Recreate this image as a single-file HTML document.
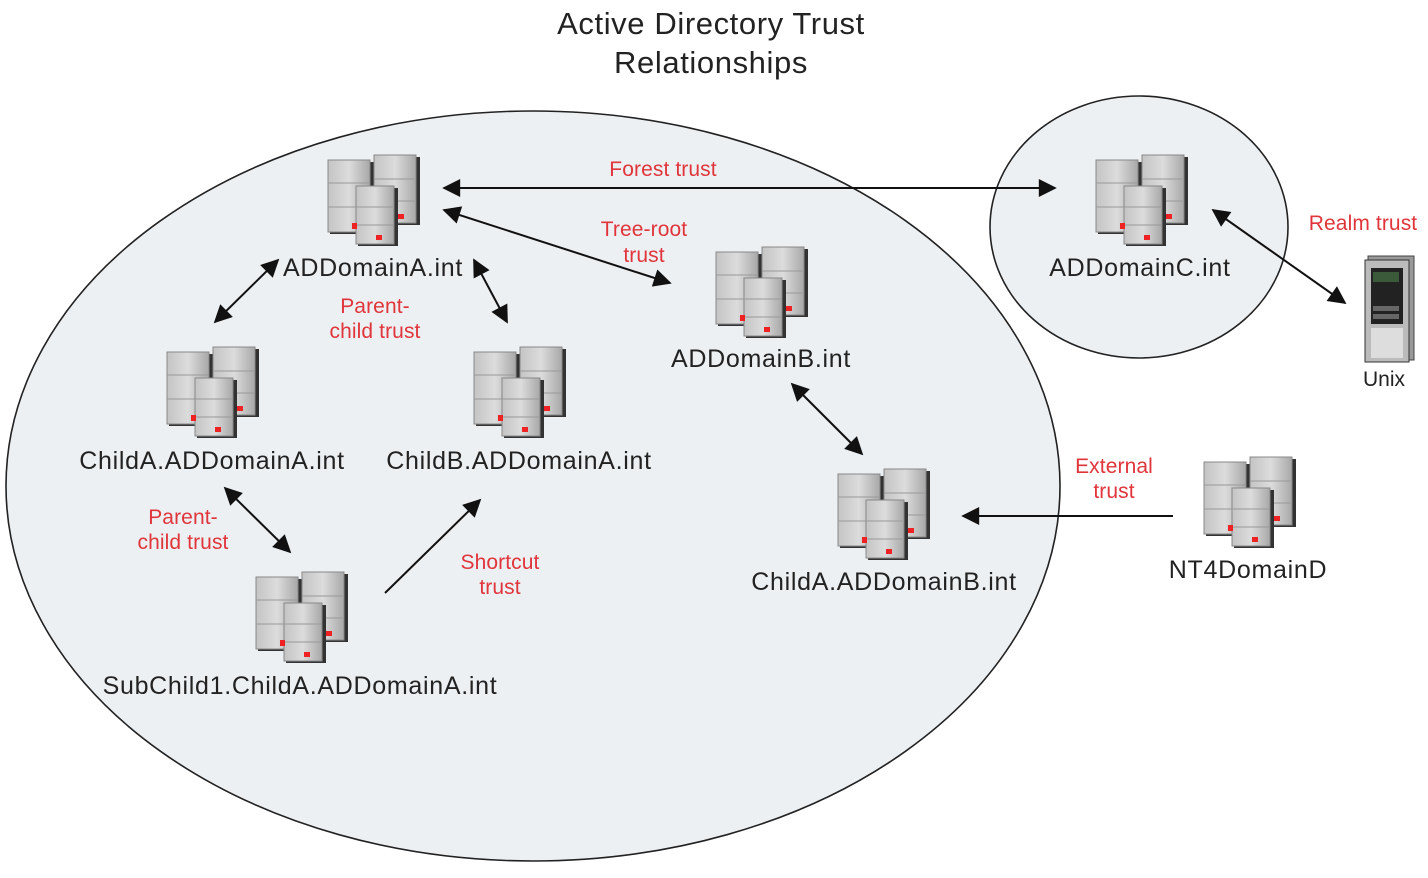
<!DOCTYPE html>
<html><head><meta charset="utf-8"><style>
body{margin:0;background:#fff}
svg{display:block}
text{font-family:"Liberation Sans",Arial,sans-serif}
.b{font-size:25px;fill:#222;letter-spacing:0.7px}
.r{font-size:21px;fill:#e0353a;letter-spacing:0.1px}
</style></head><body>
<svg width="1428" height="878" viewBox="0 0 1428 878">
<defs>
<linearGradient id="g" x1="0" x2="1"><stop offset="0" stop-color="#c4c4c4"/><stop offset=".5" stop-color="#dcdcdc"/><stop offset="1" stop-color="#a8a8a8"/></linearGradient>
<marker id="a2" viewBox="0 0 10 10" refX="9" refY="5" markerWidth="22" markerHeight="18" markerUnits="userSpaceOnUse" orient="auto-start-reverse"><path d="M0,0L10,5L0,10z" fill="#111"/></marker>
<g id="srv">
 <rect x="2" y="7" width="44" height="72" fill="#333"/>
 <rect x="0" y="5" width="42" height="72" fill="url(#g)" stroke="#888"/>
 <line x1="0" y1="28" x2="42" y2="28" stroke="#999"/><line x1="0" y1="52" x2="42" y2="52" stroke="#999"/>
 <rect x="48" y="2" width="44" height="68" fill="#333"/>
 <rect x="46" y="0" width="42" height="68" fill="url(#g)" stroke="#888"/>
 <line x1="46" y1="24" x2="88" y2="24" stroke="#999"/><line x1="46" y1="46" x2="88" y2="46" stroke="#999"/>
 <rect x="70" y="59" width="6" height="5" fill="#e22"/>
 <rect x="30" y="33" width="40" height="58" fill="#333"/>
 <rect x="28" y="31" width="38" height="58" fill="url(#g)" stroke="#888"/>
 <line x1="28" y1="52" x2="66" y2="52" stroke="#999"/><line x1="28" y1="70" x2="66" y2="70" stroke="#999"/>
 <rect x="24" y="68" width="5" height="6" fill="#e22"/>
 <rect x="48" y="80" width="6" height="5" fill="#e22"/>
</g>
</defs>
<text class="b" x="711" y="34" text-anchor="middle" style="font-size:31px;letter-spacing:0.6px">Active Directory Trust</text>
<text class="b" x="711" y="73" text-anchor="middle" style="font-size:31px;letter-spacing:0.6px">Relationships</text>
<ellipse cx="533" cy="486" rx="527" ry="375" fill="#edf0f3" stroke="#222" stroke-width="1.6"/>
<ellipse cx="1139" cy="227" rx="149" ry="131" fill="#edf0f3" stroke="#222" stroke-width="1.6"/>
<g stroke="#111" stroke-width="2">
<line x1="444" y1="188" x2="1055" y2="188" marker-start="url(#a2)" marker-end="url(#a2)"/>
<line x1="444" y1="210" x2="670" y2="283" marker-start="url(#a2)" marker-end="url(#a2)"/>
<line x1="278" y1="260" x2="215" y2="322" marker-start="url(#a2)" marker-end="url(#a2)"/>
<line x1="474" y1="260" x2="507" y2="322" marker-start="url(#a2)" marker-end="url(#a2)"/>
<line x1="225" y1="488" x2="290" y2="552" marker-start="url(#a2)" marker-end="url(#a2)"/>
<line x1="385" y1="593" x2="480" y2="500" marker-end="url(#a2)"/>
<line x1="792" y1="384" x2="862" y2="454" marker-start="url(#a2)" marker-end="url(#a2)"/>
<line x1="1173" y1="516" x2="963" y2="516" marker-end="url(#a2)"/>
<line x1="1213" y1="210" x2="1345" y2="303" marker-start="url(#a2)" marker-end="url(#a2)"/>
</g>
<use href="#srv" x="328" y="155"/>
<use href="#srv" x="716" y="247"/>
<use href="#srv" x="1096" y="155"/>
<use href="#srv" x="167" y="347"/>
<use href="#srv" x="474" y="347"/>
<use href="#srv" x="256" y="572"/>
<use href="#srv" x="838" y="469"/>
<use href="#srv" x="1204" y="457"/>
<g>
<rect x="1368" y="256" width="46" height="104" fill="#999" stroke="#444"/>
<rect x="1365" y="260" width="44" height="102" fill="#bbb" stroke="#333"/>
<rect x="1371" y="268" width="32" height="56" fill="#222"/>
<rect x="1373" y="272" width="26" height="10" fill="#3a5a3a"/>
<rect x="1373" y="306" width="26" height="5" fill="#666"/><rect x="1373" y="314" width="26" height="5" fill="#666"/>
<rect x="1371" y="328" width="32" height="30" fill="#ddd"/>
</g>
<text class="b" x="373" y="276" text-anchor="middle">ADDomainA.int</text>
<text class="b" x="761" y="367" text-anchor="middle">ADDomainB.int</text>
<text class="b" x="1140" y="276" text-anchor="middle">ADDomainC.int</text>
<text class="b" x="212" y="469" text-anchor="middle">ChildA.ADDomainA.int</text>
<text class="b" x="519" y="469" text-anchor="middle">ChildB.ADDomainA.int</text>
<text class="b" x="300" y="694" text-anchor="middle">SubChild1.ChildA.ADDomainA.int</text>
<text class="b" x="884" y="590" text-anchor="middle">ChildA.ADDomainB.int</text>
<text class="b" x="1248" y="578" text-anchor="middle">NT4DomainD</text>
<text class="b" x="1384" y="386" text-anchor="middle" style="font-size:21px;letter-spacing:0">Unix</text>
<text class="r" x="663" y="176" text-anchor="middle">Forest trust</text>
<text class="r" x="644" y="236" text-anchor="middle">Tree-root</text>
<text class="r" x="644" y="262" text-anchor="middle">trust</text>
<text class="r" x="375" y="313" text-anchor="middle">Parent-</text>
<text class="r" x="375" y="338" text-anchor="middle">child trust</text>
<text class="r" x="183" y="524" text-anchor="middle">Parent-</text>
<text class="r" x="183" y="549" text-anchor="middle">child trust</text>
<text class="r" x="500" y="569" text-anchor="middle">Shortcut</text>
<text class="r" x="500" y="594" text-anchor="middle">trust</text>
<text class="r" x="1114" y="473" text-anchor="middle">External</text>
<text class="r" x="1114" y="498" text-anchor="middle">trust</text>
<text class="r" x="1363" y="230" text-anchor="middle">Realm trust</text>
</svg>
</body></html>
